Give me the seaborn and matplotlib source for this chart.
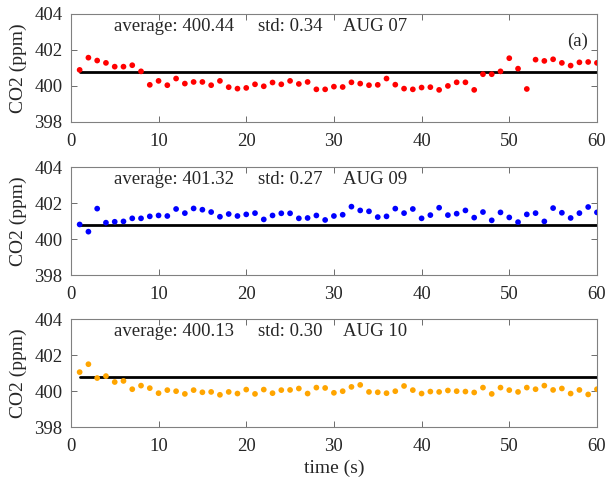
import numpy as np
import pandas as pd
import matplotlib
matplotlib.use("Agg")
import matplotlib.pyplot as plt
import seaborn as sns

time_s = list(range(1, 61))

aug07 = [400.89, 401.57, 401.41, 401.28, 401.07, 401.07, 401.15, 400.81, 400.06, 400.28,
         400.04, 400.41, 400.13, 400.22, 400.22, 400.04, 400.28, 399.93, 399.85, 399.89,
         400.09, 399.98, 400.19, 400.09, 400.28, 400.11, 400.22, 399.81, 399.81, 399.96,
         399.94, 400.20, 400.13, 400.04, 400.06, 400.41, 400.07, 399.85, 399.81, 399.91,
         399.93, 399.78, 400.00, 400.20, 400.20, 399.78, 400.65, 400.65, 400.81, 401.54,
         400.96, 399.83, 401.46, 401.39, 401.48, 401.28, 401.13, 401.31, 401.33, 401.28]

aug09 = [400.81, 400.41, 401.69, 400.91, 400.96, 400.98, 401.15, 401.15, 401.26, 401.31,
         401.28, 401.67, 401.44, 401.70, 401.63, 401.50, 401.24, 401.39, 401.28, 401.37,
         401.44, 401.09, 401.31, 401.43, 401.43, 401.15, 401.17, 401.31, 401.06, 401.28,
         401.35, 401.80, 401.59, 401.54, 401.22, 401.26, 401.69, 401.44, 401.67, 401.15,
         401.33, 401.74, 401.33, 401.41, 401.59, 401.19, 401.50, 401.04, 401.48, 401.20,
         400.94, 401.37, 401.44, 400.98, 401.72, 401.46, 401.17, 401.44, 401.78, 401.48]

aug10 = [401.06, 401.50, 400.73, 400.84, 400.51, 400.57, 400.11, 400.31, 400.17, 399.89,
         400.06, 400.00, 399.85, 400.06, 399.94, 399.96, 399.80, 399.96, 399.87, 400.09,
         399.85, 400.09, 399.89, 400.06, 400.07, 400.15, 399.87, 400.20, 400.18, 399.91,
         400.00, 400.24, 400.35, 399.96, 399.94, 399.89, 400.00, 400.29, 400.06, 399.87,
         399.98, 399.96, 400.04, 400.00, 399.98, 399.93, 400.20, 399.85, 400.20, 400.06,
         399.96, 400.20, 400.11, 400.31, 400.07, 400.15, 399.87, 400.07, 399.82, 400.11]

reference_level = 400.8
averages = ["400.44", "401.32", "400.13"]
stds = ["0.34", "0.27", "0.30"]
dates = ["AUG 07", "AUG 09", "AUG 10"]
colors = ["#ff0000", "#0000ff", "#ffa500"]
yticks = [398, 400, 402, 404]
xticks = [0, 10, 20, 30, 40, 50, 60]

sns.set_style("ticks")
plt.rcParams["font.family"] = ["Liberation Serif", "DejaVu Serif"]
plt.rcParams["xtick.direction"] = "in"
plt.rcParams["ytick.direction"] = "in"

fig = plt.figure(figsize=(6.11, 4.8), dpi=100)
lefts = 0.116
width = 0.977 - 0.116
bottoms = [0.746, 0.427, 0.110]
height = 0.225
fs = 13.5

series = [aug07, aug09, aug10]
for i, (vals, col) in enumerate(zip(series, colors)):
    ax = fig.add_axes([lefts, bottoms[i], width, height])
    df = pd.DataFrame({"time": time_s, "co2": vals})
    sns.scatterplot(data=df, x="time", y="co2", ax=ax, color=col, s=17,
                    edgecolor="none", linewidth=0, zorder=3)
    sns.lineplot(x=[time_s[0], time_s[-1]], y=[reference_level, reference_level],
                 ax=ax, color="black", linewidth=2.0, zorder=2)
    ax.set_xlim(0, 60)
    ax.set_ylim(398, 404)
    ax.set_xticks(xticks)
    ax.set_yticks(yticks)
    ax.tick_params(axis="both", which="both", direction="in", top=True, right=True,
                   labelsize=fs, length=4, width=0.6, color="#555555",
                   labelcolor="#262626", pad=6)
    ax.tick_params(axis="x", pad=8)
    for sp in ax.spines.values():
        sp.set_visible(True)
        sp.set_color("#808080")
        sp.set_linewidth(0.8)
    ax.set_ylabel("CO2 (ppm)", fontsize=14, color="#262626")
    if i == 2:
        ax.set_xlabel("time (s)", fontsize=14, color="#262626", labelpad=3)
    else:
        ax.set_xlabel("")
    ax.text(4.9, 403.3, f"average: {averages[i]}", fontsize=fs, va="center", ha="left")
    ax.text(21.3, 403.3, f"std: {stds[i]}", fontsize=fs, va="center", ha="left")
    ax.text(31.0, 403.3, dates[i], fontsize=fs, va="center", ha="left")
    if i == 0:
        ax.text(57.8, 402.5, "(a)", fontsize=fs, va="center", ha="center")
    ax.yaxis.set_label_coords(-0.084, 0.5)

fig.savefig("out.png", dpi=100)
